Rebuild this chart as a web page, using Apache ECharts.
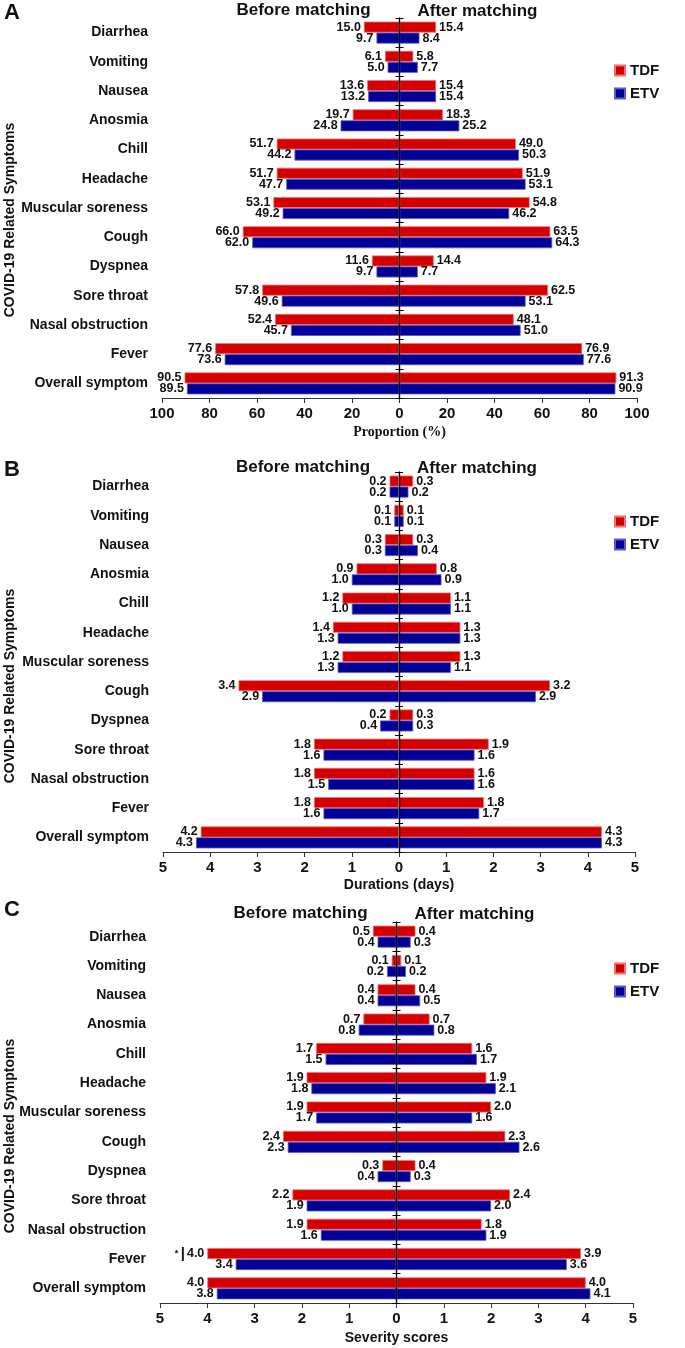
<!DOCTYPE html>
<html><head><meta charset="utf-8">
<script src="https://cdn.jsdelivr.net/npm/echarts@6/dist/echarts.min.js"></script>
<style>html,body{margin:0;padding:0;background:#fff}#c{width:685px;height:1348px}</style>
</head><body><div id="c"></div><script>
// ---------------- DATA ----------------
const categories = ['Diarrhea','Vomiting','Nausea','Anosmia','Chill','Headache','Muscular soreness','Cough','Dyspnea','Sore throat','Nasal obstruction','Fever','Overall symptom'];

// Panel A: Proportion (%)
const tdfBeforeA = [15.0, 6.1, 13.6, 19.7, 51.7, 51.7, 53.1, 66.0, 11.6, 57.8, 52.4, 77.6, 90.5];
const etvBeforeA = [9.7, 5.0, 13.2, 24.8, 44.2, 47.7, 49.2, 62.0, 9.7, 49.6, 45.7, 73.6, 89.5];
const tdfAfterA  = [15.4, 5.8, 15.4, 18.3, 49.0, 51.9, 54.8, 63.5, 14.4, 62.5, 48.1, 76.9, 91.3];
const etvAfterA  = [8.4, 7.7, 15.4, 25.2, 50.3, 53.1, 46.2, 64.3, 7.7, 53.1, 51.0, 77.6, 90.9];

// Panel B: Durations (days)
const tdfBeforeB = [0.2, 0.1, 0.3, 0.9, 1.2, 1.4, 1.2, 3.4, 0.2, 1.8, 1.8, 1.8, 4.2];
const etvBeforeB = [0.2, 0.1, 0.3, 1.0, 1.0, 1.3, 1.3, 2.9, 0.4, 1.6, 1.5, 1.6, 4.3];
const tdfAfterB  = [0.3, 0.1, 0.3, 0.8, 1.1, 1.3, 1.3, 3.2, 0.3, 1.9, 1.6, 1.8, 4.3];
const etvAfterB  = [0.2, 0.1, 0.4, 0.9, 1.1, 1.3, 1.1, 2.9, 0.3, 1.6, 1.6, 1.7, 4.3];

// Panel C: Severity scores
const tdfBeforeC = [0.5, 0.1, 0.4, 0.7, 1.7, 1.9, 1.9, 2.4, 0.3, 2.2, 1.9, 4.0, 4.0];
const etvBeforeC = [0.4, 0.2, 0.4, 0.8, 1.5, 1.8, 1.7, 2.3, 0.4, 1.9, 1.6, 3.4, 3.8];
const tdfAfterC  = [0.4, 0.1, 0.4, 0.7, 1.6, 1.9, 2.0, 2.3, 0.4, 2.4, 1.8, 3.9, 4.0];
const etvAfterC  = [0.3, 0.2, 0.5, 0.8, 1.7, 2.1, 1.6, 2.6, 0.3, 2.0, 1.9, 3.6, 4.1];
const sigTdfBeforeC = ['', '', '', '', '', '', '', '', '', '', '', '*', ''];

const legendNames = ['TDF', 'ETV'];
const axisMaxes = [100, 5, 5];
const axisIntervals = [20, 1, 1];
const axisNames = ['Proportion (%)', 'Durations (days)', 'Severity scores'];
const panelLetters = ['A', 'B', 'C'];
const yAxisTitle = 'COVID-19 Related Symptoms';
const beforeTitle = 'Before matching';
const afterTitle = 'After matching';

// ---------------- LAYOUT / STYLE ----------------
const SANS = '"Liberation Sans", Arial, Helvetica, sans-serif';
const SERIF = '"Liberation Serif", "Times New Roman", serif';
const RED = '#d40000', BLUE = '#000094';
const panels = [
  {top: 18, height: 380, left: 162, width: 475, nameGap: 27, nameFont: SERIF, titleY: 10, letterY: 13, legendTop: 57, yTitleY: 220,
   data: [tdfBeforeA, etvBeforeA, tdfAfterA, etvAfterA], sig: null},
  {top: 472, height: 380, left: 163, width: 472, nameGap: 26, nameFont: SANS, titleY: 467, letterY: 470, legendTop: 508, yTitleY: 686,
   data: [tdfBeforeB, etvBeforeB, tdfAfterB, etvAfterB], sig: null},
  {top: 922, height: 381, left: 160, width: 473, nameGap: 28, nameFont: SANS, titleY: 913, letterY: 910, legendTop: 955, yTitleY: 1136,
   data: [tdfBeforeC, etvBeforeC, tdfAfterC, etvAfterC], sig: sigTdfBeforeC}
];

const grid = [], xAxis = [], yAxis = [], series = [], legend = [], graphic = [];

panels.forEach((p, i) => {
  grid.push({left: p.left, top: p.top, width: p.width, height: p.height, containLabel: false});
  xAxis.push({
    type: 'value', gridIndex: i, min: -axisMaxes[i], max: axisMaxes[i], interval: axisIntervals[i],
    name: axisNames[i], nameLocation: 'middle', nameGap: p.nameGap,
    nameTextStyle: {fontFamily: p.nameFont, fontWeight: 'bold', fontSize: 14, color: '#111'},
    axisLine: {show: true, onZero: false, lineStyle: {color: '#333', width: 1}},
    axisTick: {show: true, length: 5, lineStyle: {color: '#333'}},
    axisLabel: {margin: 8, fontFamily: SANS, fontWeight: 'bold', fontSize: 15, color: '#111',
      formatter: v => String(Math.abs(v))},
    splitLine: {show: false}
  });
  const base = yAxis.length;
  yAxis.push({type: 'category', gridIndex: i, data: categories, inverse: true, position: 'left',
    axisLine: {show: false}, axisTick: {show: false},
    axisLabel: {margin: 14, fontFamily: SANS, fontWeight: 'bold', fontSize: 14, color: '#111'}});
  yAxis.push({type: 'category', gridIndex: i, data: categories, inverse: true, position: 'left',
    axisLine: {show: true, onZero: true, onZeroAxisIndex: i, lineStyle: {color: '#000', width: 1.2}},
    axisTick: {show: true, inside: false, length: 4, lineStyle: {color: '#000', width: 1}},
    axisLabel: {show: false}, z: 5});
  yAxis.push({type: 'category', gridIndex: i, data: categories, inverse: true, position: 'left',
    axisLine: {show: true, onZero: true, onZeroAxisIndex: i, lineStyle: {color: '#000', width: 1.2}},
    axisTick: {show: true, inside: true, length: 4, lineStyle: {color: '#000', width: 1}},
    axisLabel: {show: false}, z: 5});

  const defs = [
    {name: 'TDF', arr: p.data[0], neg: true, color: RED, border: '#f07070', stack: 'tdf' + i, sig: p.sig},
    {name: 'ETV', arr: p.data[1], neg: true, color: BLUE, border: '#5a5ad0', stack: 'etv' + i, sig: null},
    {name: 'TDF', arr: p.data[2], neg: false, color: RED, border: '#f07070', stack: 'tdf' + i, sig: null},
    {name: 'ETV', arr: p.data[3], neg: false, color: BLUE, border: '#5a5ad0', stack: 'etv' + i, sig: null}
  ];
  defs.forEach(d => {
    series.push({
      type: 'bar', name: d.name, xAxisIndex: i, yAxisIndex: base, stack: d.stack,
      barWidth: 11, barGap: '0%',
      data: d.arr.map(v => d.neg ? -v : v),
      itemStyle: {color: d.color, borderColor: d.border, borderWidth: 0.8},
      label: {
        show: true, position: d.neg ? 'left' : 'right', distance: 3,
        fontFamily: SANS, fontWeight: 'bold', fontSize: 12.5, color: '#111',
        formatter: prm => {
          const t = Math.abs(prm.value).toFixed(1);
          const s = d.sig ? d.sig[prm.dataIndex] : '';
          return s ? '{s|' + s + ' }{b||}{v|' + t + '}' : t;
        },
        rich: {
          s: {fontFamily: SANS, fontSize: 9, color: '#111'},
          b: {fontFamily: SANS, fontSize: 15, color: '#111', padding: [0, 2, 0, 0]},
          v: {fontFamily: SANS, fontWeight: 'bold', fontSize: 12.5, color: '#111'}
        }
      },
      emphasis: {disabled: true}, animation: false
    });
  });

  legend.push({data: legendNames, orient: 'vertical', left: 609, top: p.legendTop,
    itemWidth: 10, itemHeight: 10, itemGap: 6, icon: 'rect',
    textStyle: {fontFamily: SANS, fontWeight: 'bold', fontSize: 15, color: '#111', lineHeight: 17},
    selectedMode: false});

  graphic.push({type: 'text', left: 4, top: p.letterY - 11,
    style: {text: panelLetters[i], font: 'bold 22px ' + SANS, fill: '#111'}});
  graphic.push({type: 'text', x: p.left + p.width / 2 - 96, y: p.titleY,
    style: {text: beforeTitle, font: 'bold 17px ' + SANS, fill: '#111', align: 'center', verticalAlign: 'middle'}});
  graphic.push({type: 'text', x: p.left + p.width / 2 + 78, y: p.titleY + 1,
    style: {text: afterTitle, font: 'bold 17px ' + SANS, fill: '#111', align: 'center', verticalAlign: 'middle'}});
  graphic.push({type: 'text', x: 10, y: p.yTitleY, rotation: Math.PI / 2,
    style: {text: yAxisTitle, font: 'bold 14px ' + SANS, fill: '#111', align: 'center', verticalAlign: 'middle'}});
});

const chart = echarts.init(document.getElementById('c'), null, {renderer: 'canvas'});
chart.setOption({animation: false, backgroundColor: '#fff', grid, xAxis, yAxis, series, legend, graphic});
</script></body></html>
